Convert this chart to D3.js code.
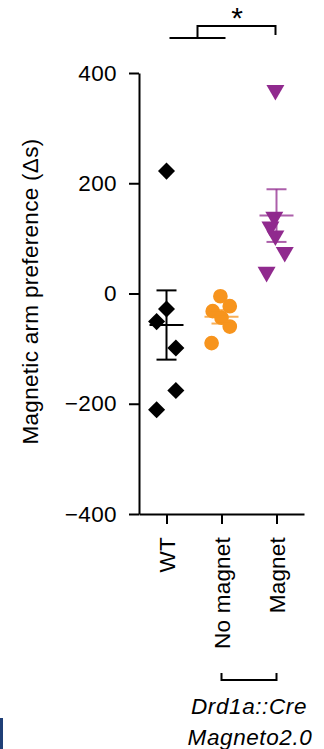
<!DOCTYPE html>
<html>
<head>
<meta charset="utf-8">
<script src="https://cdn.jsdelivr.net/npm/d3@7"></script>
<style>
  body { margin: 0; background: #fff; }
  svg { display: block; font-family: "Liberation Sans", Arial, sans-serif; }
</style>
</head>
<body>
<div class="chart"></div>
<script>
// data
const groups = ["WT", "No magnet", "Magnet"];
const wtValues = [222, -28, -51, -99, -176, -211];
const noMagnetValues = [-5, -23, -32, -44, -60, -90];
const magnetValues = [369, 139, 121, 105, 75, 39];
// horizontal scatter of the dots, as a share of one category step
const wtJitter = [0, 0, -0.18, 0.17, 0.17, -0.18];
const noMagnetJitter = [-0.02, 0.15, -0.16, 0, 0.15, -0.18];
const magnetJitter = [-0.02, -0.04, -0.11, -0.02, 0.15, -0.18];
const yTicks = [-400, -200, 0, 200, 400];

const colors = { "WT": "#000000", "No magnet": "#F7941D", "Magnet": "#902A8E" };
const shapes = {
  "WT": { type: d3.symbolSquare, size: 145, rotate: 45 },
  "No magnet": { type: d3.symbolCircle, size: 170, rotate: 0 },
  "Magnet": { type: d3.symbolTriangle, size: 140, rotate: 180 }
};

const series = [
  { key: "WT", values: wtValues, jitter: wtJitter },
  { key: "No magnet", values: noMagnetValues, jitter: noMagnetJitter },
  { key: "Magnet", values: magnetValues, jitter: magnetJitter }
];

const width = 324, height = 749;
const fontSize = 22.5;

let svg = d3.select(".chart")
  .append("svg")
  .attr("width", width)
  .attr("height", height);

let x = d3.scalePoint()
  .domain(groups)
  .range([139, 304])
  .padding(0.5);

let y = d3.scaleLinear()
  .domain([-400, 400])
  .range([514, 73]);

// === axes ===
let yAxis = d3.axisLeft(y)
  .tickValues(yTicks)
  .tickSize(10)
  .tickSizeOuter(0)
  .tickPadding(12);

let yAxisGroup = svg.append("g")
  .attr("transform", "translate(139,0)")
  .call(yAxis);

yAxisGroup.select(".domain").attr("stroke-width", 2);
yAxisGroup.selectAll(".tick line").attr("stroke-width", 2);
yAxisGroup.selectAll(".tick text")
  .attr("font-size", fontSize)
  .attr("letter-spacing", 0.4)
  .attr("fill", "#000");

let xAxis = d3.axisBottom(x)
  .tickSize(10)
  .tickSizeOuter(0)
  .tickPadding(0);

let xAxisGroup = svg.append("g")
  .attr("transform", "translate(0,514)")
  .call(xAxis);

xAxisGroup.select(".domain").attr("stroke-width", 2);
xAxisGroup.selectAll(".tick line").attr("stroke-width", 2);
xAxisGroup.selectAll(".tick text")
  .attr("font-size", fontSize)
  .attr("letter-spacing", 0.2)
  .attr("fill", "#000")
  .attr("text-anchor", "end")
  .attr("transform", "translate(0,23) rotate(-90)")
  .attr("x", 0)
  .attr("y", 0)
  .attr("dy", "0.35em");

// y title
svg.append("text")
  .attr("transform", `translate(38,${y(0) - 2}) rotate(-90)`)
  .attr("text-anchor", "middle")
  .attr("font-size", fontSize)
  .attr("letter-spacing", 0.3)
  .text("Magnetic arm preference (Δs)");

// === points ===
let symbol = d3.symbol();

series.forEach(s => {
  let sh = shapes[s.key];
  svg.append("g")
    .selectAll("path")
    .data(s.values)
    .join("path")
    .attr("d", symbol.type(sh.type).size(sh.size)())
    .attr("fill", colors[s.key])
    .attr("transform", (d, i) =>
      `translate(${x(s.key) + s.jitter[i] * x.step()},${y(d)}) rotate(${sh.rotate})`);
});

// === mean +- sem ===
series.forEach(s => {
  let m = d3.mean(s.values);
  let sem = d3.deviation(s.values) / Math.sqrt(s.values.length);
  let cx = x(s.key);
  let g = svg.append("g")
    .attr("stroke", colors[s.key])
    .attr("stroke-width", 2)
    .attr("stroke-opacity", s.key == "WT" ? 1 : 0.75);
  g.append("line")
    .attr("x1", cx).attr("x2", cx)
    .attr("y1", y(m + sem)).attr("y2", y(m - sem));
  g.append("line")
    .attr("x1", cx - 17).attr("x2", cx + 17)
    .attr("y1", y(m)).attr("y2", y(m));
  [m + sem, m - sem].forEach(v => {
    g.append("line")
      .attr("x1", cx - 10).attr("x2", cx + 10)
      .attr("y1", y(v)).attr("y2", y(v));
  });
});

// === significance bracket ===
let sig = svg.append("g")
  .attr("stroke", "#000")
  .attr("stroke-width", 2)
  .attr("fill", "none");

let lowL = x("WT") + 3, lowR = x("No magnet") + 4;
let mid = (lowL + lowR) / 2;
sig.append("line").attr("x1", lowL).attr("x2", lowR).attr("y1", 38).attr("y2", 38);
sig.append("path")
  .attr("d", `M${mid},38 V26 H${x("Magnet") - 1} V35`);

svg.append("text")
  .attr("x", (mid + x("Magnet")) / 2)
  .attr("y", 28)
  .attr("text-anchor", "middle")
  .attr("font-size", 30)
  .text("*");

// === genotype bracket ===
svg.append("path")
  .attr("d", `M${x("No magnet")},673 V680 H${x("Magnet")} V673`)
  .attr("stroke", "#000")
  .attr("stroke-width", 2)
  .attr("fill", "none");

let geno = svg.append("text")
  .attr("text-anchor", "middle")
  .attr("font-size", fontSize)
  .attr("font-style", "italic")
  .attr("letter-spacing", 0.6);

geno.append("tspan")
  .attr("x", 249).attr("y", 714)
  .text("Drd1a::Cre");
geno.append("tspan")
  .attr("x", 250).attr("y", 745)
  .text("Magneto2.0");

// edge of the neighbouring panel
svg.append("rect")
  .attr("x", 0).attr("y", 718)
  .attr("width", 3).attr("height", 31)
  .attr("fill", "#1f3f77");
</script>
</body>
</html>
